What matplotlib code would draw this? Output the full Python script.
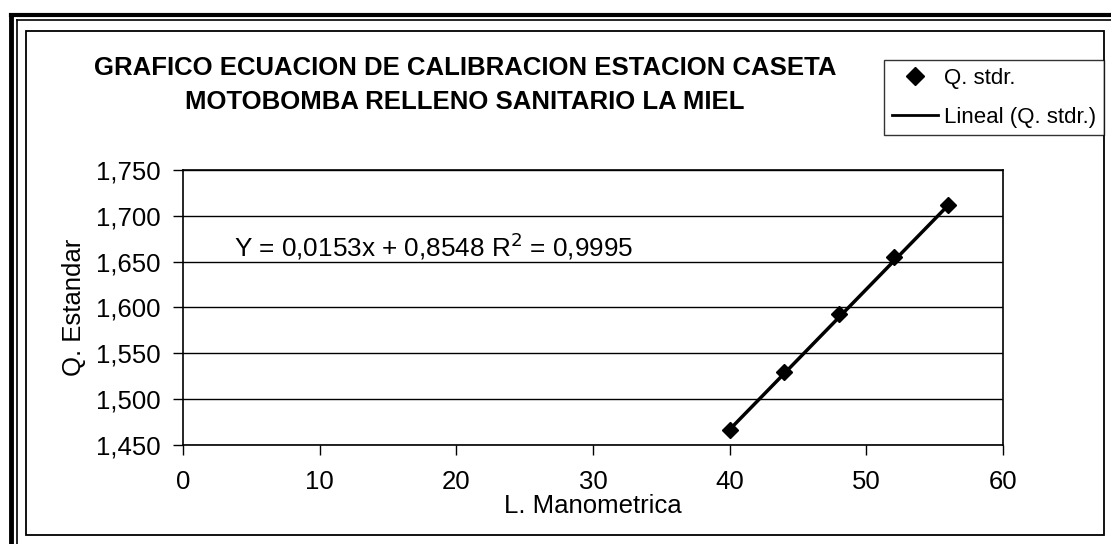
import numpy as np
import matplotlib.pyplot as plt
from matplotlib.lines import Line2D
from matplotlib.patches import Rectangle
from matplotlib.ticker import FuncFormatter

# data
l_mano = [40, 44, 48, 52, 56]
q_std = [1.466, 1.530, 1.593, 1.655, 1.712]
slope = 0.0153
intercept = 0.8548
r2 = 0.9995
x_ticks = [0, 10, 20, 30, 40, 50, 60]
y_ticks = [1.450, 1.500, 1.550, 1.600, 1.650, 1.700, 1.750]

plt.rcParams['font.family'] = ['Liberation Sans', 'DejaVu Sans']

fig = plt.figure(figsize=(11.11, 5.44), dpi=100)
ax = fig.add_axes([0.1647, 0.182, 0.738, 0.5055])

# scanned page frame
W, H = 1111, 544
def fx(px): return px / W
def fy(py): return 1 - py / H
fig.add_artist(Line2D([fx(11), fx(11)], [fy(15), 0], color='black', lw=3.5))
fig.add_artist(Line2D([fx(17), fx(17)], [fy(20), 0], color='black', lw=1.2))
fig.add_artist(Line2D([fx(11), 1], [fy(15), fy(15)], color='black', lw=3.0))
fig.add_artist(Line2D([fx(17), 1], [fy(20), fy(20)], color='black', lw=1.2))
fig.add_artist(Rectangle((fx(26), fy(535)), fx(1104) - fx(26), fy(31) - fy(535),
                         fill=False, ec='black', lw=1.3))

# trend line
xs = np.array([l_mano[0], l_mano[-1]])
ax.plot(xs, slope * xs + intercept, color='black', lw=2.5, zorder=3)
ax.plot(l_mano, q_std, linestyle='none', marker='D', ms=8, color='black', zorder=4)

ax.set_xlim(0, 60)
ax.set_ylim(1.450, 1.750)
ax.set_xticks(x_ticks)
ax.set_yticks(y_ticks)
ax.yaxis.set_major_formatter(FuncFormatter(lambda v, p: f"{v:.3f}".replace('.', ',')))
ax.tick_params(axis='both', labelsize=18.5, direction='out', length=7, width=1)
ax.tick_params(axis='y', pad=9)
ax.tick_params(axis='x', pad=11)
ax.grid(axis='y', color='black', lw=1)
for s in ax.spines.values():
    s.set_linewidth(1.2)

ax.set_xlabel('L. Manometrica', fontsize=18.5, labelpad=0)
ax.set_ylabel('Q. Estandar', fontsize=18.5, labelpad=7)

ax.text(3.7, 1.667, 'Y = 0,0153x + 0,8548 R$^2$ = 0,9995', fontsize=18.8,
        va='center', ha='left')

fig.text(fx(465), fy(68), 'GRAFICO ECUACION DE CALIBRACION ESTACION CASETA',
         fontsize=18.5, fontweight='bold', ha='center', va='center')
fig.text(fx(465), fy(102), 'MOTOBOMBA RELLENO SANITARIO LA MIEL',
         fontsize=18.5, fontweight='bold', ha='center', va='center')

# legend box
handles = [Line2D([], [], linestyle='none', marker='D', ms=9, color='black'),
           Line2D([], [], color='black', lw=2)]
leg = fig.legend(handles, ['Q. stdr.', 'Lineal (Q. stdr.)'],
                 loc='upper left', bbox_to_anchor=(fx(884), fy(60)),
                 fontsize=16, frameon=True, fancybox=False, edgecolor='black',
                 handlelength=2.1, handletextpad=0.25, borderpad=0.35,
                 borderaxespad=0, labelspacing=0.8)
leg.get_frame().set_linewidth(1.0)

fig.savefig('out.png', dpi=100)
